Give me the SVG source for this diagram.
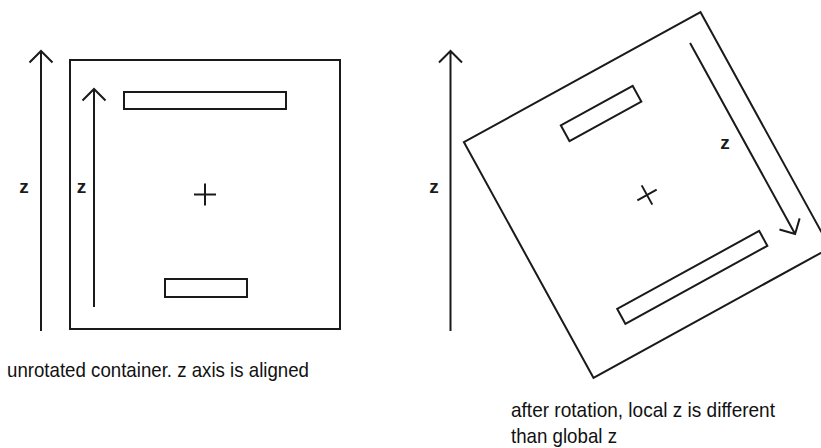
<svg xmlns="http://www.w3.org/2000/svg" width="821" height="448" viewBox="0 0 821 448">
<style>
.ln{fill:none;stroke:#1a1a1a;stroke-width:2}
.box{fill:#fff;stroke:#1a1a1a;stroke-width:2}
.lbl{font-family:"Liberation Sans",Arial,sans-serif;font-size:19px;font-weight:bold;fill:#1a1a1a;text-anchor:middle}
.cap{font-family:"Liberation Sans",Arial,sans-serif;font-size:21px;fill:#111}
</style>
<rect width="821" height="448" fill="#fff"/>
<g id="container-unrotated">
<rect class="box" x="70" y="60" width="270" height="269"/>
<rect class="box" x="124" y="92" width="162" height="17"/>
<rect class="box" x="165" y="279" width="82" height="18"/>
<path class="ln" d="M194 194.5H216M205 183.5V205.5"/>
</g>
<g id="container-rotated" transform="translate(647,195) rotate(151.2) translate(-205,-194.5)">
<rect class="box" x="70" y="60" width="270" height="269"/>
<rect class="box" x="124" y="92" width="162" height="17"/>
<rect class="box" x="165" y="279" width="82" height="18"/>
<path class="ln" d="M194 194.5H216M205 183.5V205.5"/>
</g>
<g id="connectors">
<g id="global-z-left">
<path class="ln" d="M41 331V51M29.5 62.5L41 51L52.5 62.5"/>
</g>
<g id="local-z-left">
<path class="ln" d="M94 307V89M82.5 100.5L94 89L105.5 100.5"/>
</g>
<g id="global-z-right">
<path class="ln" d="M450.5 331V51M439 62.5L450.5 51L462 62.5"/>
</g>
<g id="local-z-right" transform="translate(647,195) rotate(151.2) translate(-205,-194.5)">
<path class="ln" d="M94 307V89M82.5 100.5L94 89L105.5 100.5"/>
</g>
</g>
<g id="labels">
<text class="lbl" x="24" y="193">z</text>
<text class="lbl" x="81.5" y="193">z</text>
<text class="lbl" x="434" y="193">z</text>
<text class="lbl" x="725" y="149">z</text>
<text class="cap" x="7" y="377" textLength="302" lengthAdjust="spacingAndGlyphs">unrotated container. z axis is aligned</text>
<text class="cap" x="511" y="417" textLength="264" lengthAdjust="spacingAndGlyphs">after rotation, local z is different</text>
<text class="cap" x="511" y="443" textLength="106" lengthAdjust="spacingAndGlyphs">than global z</text>
</g>
</svg>
